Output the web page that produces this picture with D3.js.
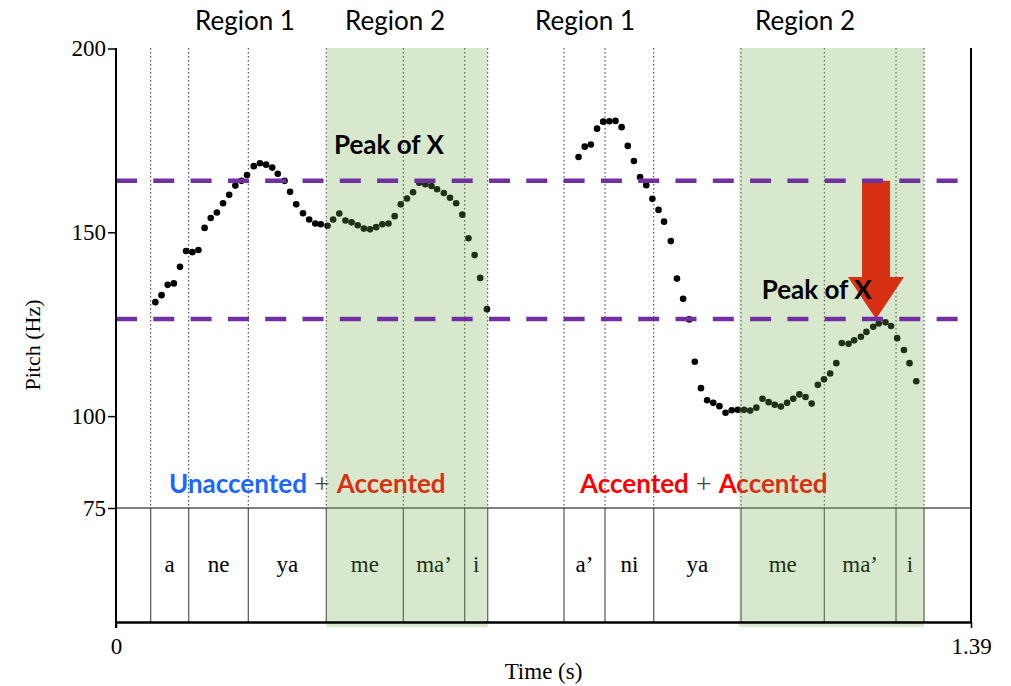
<!DOCTYPE html>
<html>
<head>
<meta charset="utf-8">
<script src="https://cdn.jsdelivr.net/npm/d3@7"></script>
<style>
  body { margin: 0; background: #fff; }
  svg { display: block; }
</style>
</head>
<body>
<svg id="chart" width="1011" height="686"></svg>
<script>
// pitch track, two utterances
var pitchTimes1 = [0.064,0.074,0.084,0.094,0.104,0.114,0.124,0.134,0.144,0.154,0.164,0.174,0.184,0.194,0.204,0.213,0.224,0.234,0.244,0.254,0.263,0.274,0.283,0.293,0.304,0.314,0.324,0.333,0.344,0.353,0.363,0.373,0.383,0.393,0.403,0.413,0.423,0.433,0.443,0.453,0.463,0.473,0.483,0.493,0.503,0.513,0.522,0.533,0.543,0.553,0.563,0.573,0.583,0.592,0.603];
var pitchValues1 = [131.0,132.9,135.7,136.1,140.6,144.9,144.6,145.2,151.2,153.9,155.4,157.9,160.2,162.7,164.0,165.6,168.0,168.8,168.4,167.6,165.9,164.0,161.0,157.6,155.2,153.5,152.4,152.2,151.8,153.5,155.1,153.2,152.7,151.9,151.0,150.8,151.4,152.2,152.4,154.4,157.6,159.2,160.9,163.5,163.1,162.6,161.7,160.7,159.4,157.9,154.8,148.4,143.8,137.6,129.1];
var pitchTimes2 = [0.752,0.762,0.772,0.782,0.792,0.802,0.812,0.822,0.832,0.842,0.852,0.862,0.872,0.882,0.891,0.902,0.912,0.922,0.932,0.941,0.951,0.961,0.971,0.981,0.991,1.001,1.011,1.021,1.031,1.041,1.051,1.061,1.071,1.081,1.091,1.101,1.111,1.121,1.131,1.141,1.151,1.161,1.171,1.180,1.191,1.200,1.211,1.220,1.231,1.240,1.251,1.260,1.270,1.281,1.290,1.301];
var pitchValues2 = [170.5,173.3,173.9,178.2,180.1,180.2,180.3,178.6,173.5,169.4,165.0,162.8,159.1,156.1,152.9,147.6,137.4,131.9,126.3,114.8,107.6,104.3,103.6,102.7,100.9,101.6,101.7,101.7,101.5,102.3,104.7,103.8,103.1,102.6,103.6,104.7,105.9,105.2,103.4,108.5,110.0,111.6,114.4,119.9,119.7,120.6,121.6,122.9,124.3,125.2,125.5,124.5,121.2,118.0,114.4,109.5];

// syllable tiers
var syllables1 = ["a","ne","ya","me","ma\u2019","i"];
var bounds1 = [0.0564,0.1182,0.2151,0.3419,0.4671,0.5669,0.6043];
var syllables2 = ["a\u2019","ni","ya","me","ma\u2019","i"];
var bounds2 = [0.7283,0.7950,0.8742,1.0162,1.1515,1.2681,1.3136];

var regionLabels = ["Region 1","Region 2","Region 1","Region 2"];
var regionTimes = [0.2096,0.4536,0.7625,1.1202];

var peakLines = [164.0, 126.4];
var pitchTicks = [200,150,100,75];
var timeTicks = [0,1.39];

var svg = d3.select("#chart");
var xScale = d3.scaleLinear().domain([0,1.39]).range([116,971]);
var yScale = d3.scaleLinear().domain([75,200]).range([508,48.5]);
var plotTop = 48, tgBottom = 622;

var sans = "Lato, 'Open Sans', sans-serif";
var serif = "'Liberation Serif', 'Times New Roman', serif";

var under = svg.append("g");
var overlay = svg.append("g");
var above = svg.append("g");

// boundaries: dotted in pitch area, solid in tier
function drawTier(bounds, labels){
	bounds.forEach(function(b){
		under.append("line")
			.attr("x1", xScale(b)).attr("x2", xScale(b))
			.attr("y1", plotTop).attr("y2", yScale(75))
			.attr("stroke", "#333").attr("stroke-width", 1)
			.attr("stroke-dasharray", "1.5,2.5");
		under.append("line")
			.attr("x1", xScale(b)).attr("x2", xScale(b))
			.attr("y1", yScale(75)).attr("y2", tgBottom)
			.attr("stroke", "#555").attr("stroke-width", 1.2);
	});
	labels.forEach(function(s, i){
		under.append("text")
			.attr("x", (xScale(bounds[i]) + xScale(bounds[i+1])) / 2)
			.attr("y", 572)
			.attr("text-anchor", "middle")
			.attr("font-family", serif).attr("font-size", 23)
			.attr("fill", "#000")
			.text(s);
	});
}
drawTier(bounds1, syllables1);
drawTier(bounds2, syllables2);

// 75 Hz line
under.append("line")
	.attr("x1", xScale(0)).attr("x2", xScale(1.39))
	.attr("y1", yScale(75)).attr("y2", yScale(75))
	.attr("stroke", "#000").attr("stroke-width", 1);

// pitch dots
var pts = pitchTimes1.map(function(t, i){ return {t: t, v: pitchValues1[i]}; })
	.concat(pitchTimes2.map(function(t, i){ return {t: t, v: pitchValues2[i]}; }));
under.selectAll("circle.pt")
	.data(pts)
	.enter().append("circle")
	.attr("class", "pt")
	.attr("cx", function(d){ return xScale(d.t); })
	.attr("cy", function(d){ return yScale(d.v); })
	.attr("r", 3.3)
	.attr("fill", "#000");

// accent labels
function accentLabel(t, first, firstColor){
	var txt = under.append("text")
		.attr("x", xScale(t)).attr("y", yScale(79.1))
		.attr("font-family", sans).attr("font-weight", 700).attr("font-size", 26);
	txt.append("tspan").attr("fill", firstColor).text(first);
	txt.append("tspan").attr("font-family", serif).attr("font-weight", 400)
		.attr("font-size", 28).attr("fill", "#444").text(" + ");
	txt.append("tspan").attr("fill", "#ff0000").text("Accented");
}
accentLabel(0.0862, "Unaccented", "#1a66ff");
accentLabel(0.7543, "Accented", "#ff0000");

// red arrow from upper to lower peak line
var ax = xScale(1.2356), ay1 = yScale(peakLines[0]), ay2 = yScale(peakLines[1]);
var headLen = 42, shaftW = 14, headW = 28;
under.append("path")
	.attr("d", "M" + (ax - shaftW) + "," + ay1 + "L" + (ax + shaftW) + "," + ay1 +
		"L" + (ax + shaftW) + "," + (ay2 - headLen) + "L" + (ax + headW) + "," + (ay2 - headLen) +
		"L" + ax + "," + ay2 + "L" + (ax - headW) + "," + (ay2 - headLen) +
		"L" + (ax - shaftW) + "," + (ay2 - headLen) + "Z")
	.attr("fill", "#ff0000");

// green shading over the Region 2 spans
[[bounds1[3], bounds1[6]], [bounds2[3] - 0.003, bounds2[6]]].forEach(function(r){
	overlay.append("rect")
		.attr("x", xScale(r[0])).attr("width", xScale(r[1]) - xScale(r[0]))
		.attr("y", plotTop).attr("height", 627 - plotTop)
		.attr("fill", "#70ad47").attr("fill-opacity", 0.28);
});

// purple dashed peak lines
peakLines.forEach(function(p){
	above.append("line")
		.attr("x1", xScale(0)).attr("x2", xScale(1.39))
		.attr("y1", yScale(p)).attr("y2", yScale(p))
		.attr("stroke", "#7030a0").attr("stroke-width", 4.5)
		.attr("stroke-dasharray", "21,16.3");
});

// Peak of X annotations
above.append("text")
	.attr("x", xScale(0.3544)).attr("y", 154)
	.attr("font-family", sans).attr("font-weight", 700).attr("font-size", 26)
	.attr("fill", "#000").text("Peak of X");
above.append("text")
	.attr("x", xScale(1.0498)).attr("y", 299)
	.attr("font-family", sans).attr("font-weight", 700).attr("font-size", 26)
	.attr("fill", "#000").text("Peak of X");

// region titles
regionLabels.forEach(function(l, i){
	above.append("text")
		.attr("x", xScale(regionTimes[i])).attr("y", 30)
		.attr("text-anchor", "middle")
		.attr("font-family", sans).attr("font-size", 26)
		.attr("fill", "#000").text(l);
});

// axes
var yAxis = above.append("g")
	.attr("transform", "translate(" + xScale(0) + ",0)")
	.call(d3.axisLeft(yScale).tickValues(pitchTicks).tickFormat(d3.format("d")).tickSize(8).tickPadding(2));
yAxis.select(".domain").remove();
yAxis.selectAll("text").attr("font-family", serif).attr("font-size", 23).attr("fill", "#000");
yAxis.selectAll("line").attr("stroke-width", 1.5);

var xAxis = above.append("g")
	.attr("transform", "translate(0," + tgBottom + ")")
	.call(d3.axisBottom(xScale).tickValues(timeTicks).tickFormat(function(d){ return d === 0 ? "0" : d3.format(".2f")(d); }).tickSize(6).tickSizeOuter(0).tickPadding(10));
xAxis.select(".domain").attr("stroke-width", 2.5);
xAxis.selectAll("line").attr("stroke-width", 1.5);
xAxis.selectAll("text").attr("font-family", serif).attr("font-size", 23).attr("fill", "#000");

// left and right frame
above.append("line")
	.attr("x1", xScale(0)).attr("x2", xScale(0))
	.attr("y1", plotTop).attr("y2", tgBottom + 6)
	.attr("stroke", "#000").attr("stroke-width", 2);
above.append("line")
	.attr("x1", xScale(1.39)).attr("x2", xScale(1.39))
	.attr("y1", plotTop).attr("y2", tgBottom)
	.attr("stroke", "#000").attr("stroke-width", 2);

// axis titles
above.append("text")
	.attr("x", (xScale(0) + xScale(1.39)) / 2).attr("y", 679)
	.attr("text-anchor", "middle")
	.attr("font-family", serif).attr("font-size", 23).attr("fill", "#000")
	.text("Time (s)");
above.append("text")
	.attr("transform", "translate(40," + 345 + ") rotate(-90)")
	.attr("text-anchor", "middle")
	.attr("font-family", serif).attr("font-size", 22).attr("fill", "#000")
	.text("Pitch (Hz)");
</script>
</body>
</html>
